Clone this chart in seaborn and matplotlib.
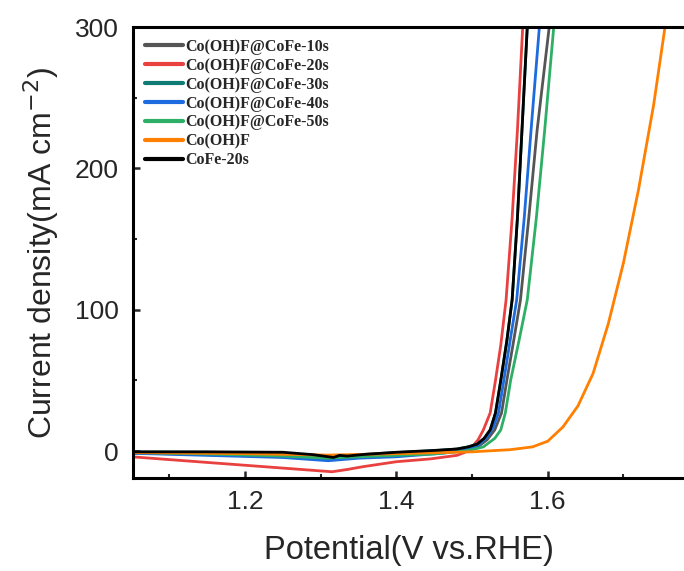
import numpy as np
import pandas as pd
import matplotlib
matplotlib.use("Agg")
import matplotlib.pyplot as plt
import seaborn as sns
from matplotlib.ticker import MultipleLocator

labels = ["Co(OH)F@CoFe-10s", "Co(OH)F@CoFe-20s", "Co(OH)F@CoFe-30s",
          "Co(OH)F@CoFe-40s", "Co(OH)F@CoFe-50s", "Co(OH)F", "CoFe-20s"]
colors = ["#555555", "#E8413F", "#0E7C74", "#1C6BDF", "#2EAF66", "#FF7F00", "#000000"]

x_10s = [1.05, 1.15, 1.25, 1.31, 1.35, 1.40, 1.45, 1.49, 1.50, 1.51, 1.52, 1.53, 1.539, 1.546, 1.555, 1.564, 1.575, 1.586, 1.602]
y_10s = [-1.2, -2.5, -4.0, -6.0, -4.5, -3.0, -1.5, 0.5, 1.5, 4.0, 8.0, 15.0, 27.0, 50.0, 78.0, 107.0, 165.0, 227.0, 300.0]

x_20s = [1.05, 1.10, 1.15, 1.20, 1.25, 1.30, 1.315, 1.335, 1.356, 1.40, 1.445, 1.48, 1.49, 1.50, 1.508, 1.515, 1.524, 1.531, 1.538, 1.545, 1.553, 1.560, 1.567]
y_20s = [-4.0, -6.0, -8.0, -10.0, -12.0, -14.0, -14.6, -13.0, -11.0, -7.5, -5.5, -3.0, -1.0, 3.0, 8.0, 15.0, 27.0, 50.0, 75.0, 107.0, 165.0, 227.0, 300.0]

x_30s = [1.05, 1.15, 1.25, 1.31, 1.35, 1.40, 1.45, 1.48, 1.495, 1.507, 1.516, 1.524, 1.531, 1.538, 1.546, 1.553, 1.560, 1.566, 1.573]
y_30s = [-0.6, -0.8, -1.5, -4.5, -2.5, -1.0, 0.3, 1.5, 3.0, 5.0, 9.0, 15.0, 27.0, 50.0, 78.0, 107.0, 165.0, 227.0, 300.0]

x_40s = [1.05, 1.15, 1.25, 1.31, 1.35, 1.40, 1.46, 1.49, 1.50, 1.51, 1.52, 1.528, 1.535, 1.542, 1.550, 1.559, 1.569, 1.578, 1.589]
y_40s = [-1.5, -3.0, -4.5, -6.8, -5.0, -4.0, -1.5, 0.5, 2.0, 5.0, 10.0, 17.0, 27.0, 50.0, 77.0, 107.0, 165.0, 227.0, 300.0]

x_50s = [1.05, 1.15, 1.25, 1.31, 1.35, 1.40, 1.45, 1.49, 1.50, 1.515, 1.53, 1.538, 1.544, 1.551, 1.562, 1.573, 1.585, 1.596, 1.608]
y_50s = [-1.0, -2.0, -3.5, -5.0, -4.0, -3.0, -2.0, 0.0, 1.0, 3.0, 9.0, 15.0, 27.0, 50.0, 78.0, 107.0, 165.0, 227.0, 300.0]

x_coohf = [1.05, 1.20, 1.31, 1.40, 1.50, 1.55, 1.58, 1.60, 1.62, 1.64, 1.66, 1.68, 1.70, 1.72, 1.74, 1.755]
y_coohf = [-1.0, -1.8, -2.8, -1.8, -0.5, 1.0, 3.0, 7.0, 17.0, 32.0, 55.0, 90.0, 133.0, 185.0, 245.0, 300.0]

x_cofe = [1.05, 1.15, 1.25, 1.29, 1.317, 1.325, 1.335, 1.356, 1.40, 1.45, 1.48, 1.495, 1.507, 1.516, 1.524, 1.531, 1.538, 1.546, 1.553, 1.560, 1.566, 1.573]
y_cofe = [-0.5, -0.5, -0.8, -2.5, -4.5, -3.0, -3.5, -2.4, -0.8, 0.5, 1.5, 3.0, 5.0, 9.0, 15.0, 27.0, 50.0, 78.0, 107.0, 165.0, 227.0, 300.0]

series_x = [x_10s, x_20s, x_30s, x_40s, x_50s, x_coohf, x_cofe]
series_y = [y_10s, y_20s, y_30s, y_40s, y_50s, y_coohf, y_cofe]

frames = []
for lab, xs, ys in zip(labels, series_x, series_y):
    frames.append(pd.DataFrame({"Potential": xs, "Current": ys, "Sample": lab}))
df = pd.concat(frames, ignore_index=True)

sns.set_style("ticks")
plt.rcParams["font.family"] = ["Liberation Sans", "DejaVu Sans"]

fig = plt.figure(figsize=(6.84, 5.71), dpi=100)
ax = fig.add_axes([0.1944, 0.1629, 0.8066, 0.7898])

sns.lineplot(data=df, x="Potential", y="Current", hue="Sample",
             hue_order=labels, palette=dict(zip(labels, colors)),
             linewidth=2.0, sort=True, estimator=None, ax=ax)

ax.set_xlim(1.052, 1.781)
ax.set_ylim(-19, 300)
ax.xaxis.set_major_locator(MultipleLocator(0.2))
ax.xaxis.set_minor_locator(MultipleLocator(0.1))
ax.yaxis.set_major_locator(MultipleLocator(100))
ax.yaxis.set_minor_locator(MultipleLocator(50))
ax.tick_params(which="major", direction="in", length=5, width=1.8, labelsize=19)
ax.tick_params(axis="x", which="major", pad=9)
ax.tick_params(axis="y", which="major", pad=10)
ax.tick_params(which="minor", direction="in", length=3, width=1.5)
ax.tick_params(top=False, right=False)
for s in ["left", "bottom", "top", "right"]:
    ax.spines[s].set_linewidth(2.2)
    ax.spines[s].set_color("black")

ax.set_xlabel("Potential(V vs.RHE)", fontsize=23.5, labelpad=15)
ax.set_ylabel("Current density(mA cm$^{-2}$)", fontsize=23, labelpad=10)

leg = ax.legend(loc="upper left", frameon=False,
                prop={"family": "Liberation Serif", "weight": "bold", "size": 11.5},
                handlelength=2.4, handletextpad=0.15, labelspacing=0.18,
                borderpad=0.2, borderaxespad=0.55, bbox_to_anchor=(0.0, 1.0))
for line in leg.get_lines():
    line.set_linewidth(3.0)

fig.savefig("out.png", dpi=100)
